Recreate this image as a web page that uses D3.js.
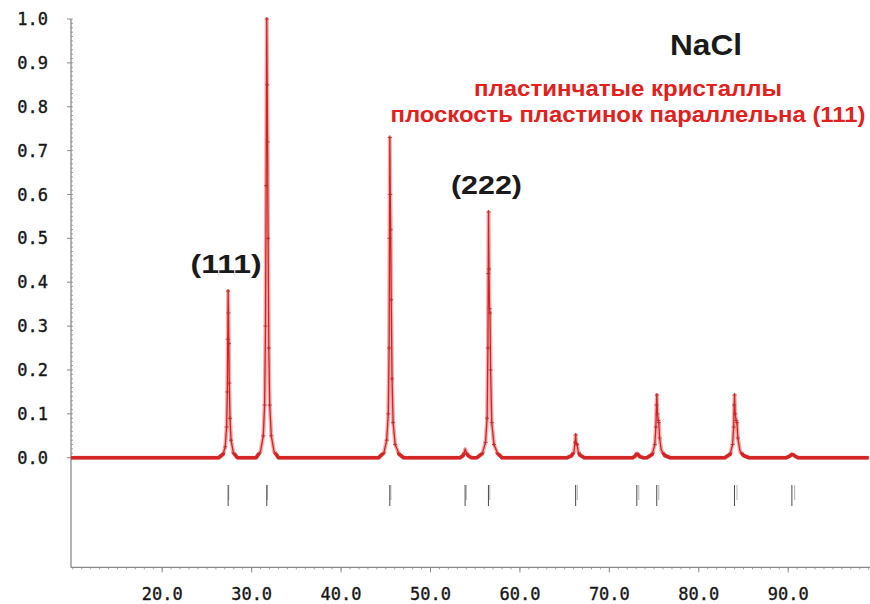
<!DOCTYPE html>
<html>
<head>
<meta charset="utf-8">
<script src="https://cdn.jsdelivr.net/npm/d3@7"></script>
<style>
  html, body { margin: 0; padding: 0; background: #fff; }
  svg { display: block; }
</style>
</head>
<body>
<svg id="chart" width="870" height="604"></svg>
<script>
// Powder diffraction pattern of NaCl (Cu Kα), platelet crystals with (111) texture.

// Measured profile: 2θ (degrees) and relative intensity
const twoTheta = [
  9.8, 20.0,
  26.3, 26.8, 27.05, 27.2, 27.28, 27.33, 27.37, 27.41, 27.45, 27.5, 27.58, 27.7, 27.95, 28.4,
  30.5, 31.0, 31.3, 31.45, 31.55, 31.62, 31.69, 31.74, 31.78, 31.84, 31.92, 32.02, 32.2, 32.5, 33.0,
  40.0,
  44.2, 44.8, 45.1, 45.28, 45.37, 45.42, 45.45, 45.5, 45.55, 45.61, 45.7, 45.82, 46.05, 46.5, 47.0,
  53.3, 53.65, 53.8, 53.87, 53.95, 54.05, 54.25, 54.6,
  55.2, 55.8, 56.15, 56.33, 56.42, 56.46, 56.49, 56.54, 56.6, 56.65, 56.72, 56.85, 57.1, 57.5, 58.0,
  62.0,
  65.3, 65.8, 66.05, 66.17, 66.23, 66.3, 66.4, 66.5, 66.7, 67.2,
  72.6, 72.9, 73.03, 73.1, 73.25, 73.45, 73.8,
  74.2, 74.8, 75.08, 75.2, 75.27, 75.31, 75.38, 75.47, 75.53, 75.62, 75.8, 76.2, 76.8,
  80.0,
  82.9, 83.5, 83.78, 83.9, 83.96, 84.0, 84.07, 84.18, 84.27, 84.37, 84.6, 85.0, 85.6,
  89.8, 90.2, 90.4, 90.55, 90.75, 91.1,
  99.0
];
const intensity = [
  0, 0,
  0, 0.008, 0.025, 0.07, 0.15, 0.27, 0.38, 0.33, 0.26, 0.17, 0.09, 0.04, 0.012, 0,
  0, 0.015, 0.05, 0.12, 0.30, 0.62, 1.00, 0.85, 0.72, 0.50, 0.25, 0.12, 0.05, 0.015, 0,
  0,
  0, 0.012, 0.04, 0.10, 0.25, 0.50, 0.73, 0.60, 0.52, 0.36, 0.18, 0.08, 0.03, 0.008, 0,
  0, 0.005, 0.014, 0.02, 0.016, 0.01, 0.004, 0,
  0, 0.01, 0.035, 0.09, 0.25, 0.42, 0.56, 0.43, 0.34, 0.33, 0.20, 0.08, 0.03, 0.01, 0,
  0,
  0, 0.005, 0.015, 0.035, 0.052, 0.032, 0.03, 0.016, 0.006, 0,
  0, 0.004, 0.009, 0.01, 0.006, 0.002, 0,
  0, 0.008, 0.03, 0.07, 0.12, 0.143, 0.10, 0.085, 0.08, 0.045, 0.018, 0.005, 0,
  0,
  0, 0.008, 0.03, 0.07, 0.12, 0.143, 0.10, 0.085, 0.08, 0.045, 0.016, 0.005, 0,
  0, 0.004, 0.008, 0.007, 0.004, 0,
  0
];

// Reflection positions (Kα1 and Kα2) shown as bars under the pattern
const hkl     = ["111", "200", "220", "311", "222", "400", "331", "420", "422", "511"];
const kAlpha1 = [27.37, 31.69, 45.45, 53.87, 56.48, 66.23, 73.07, 75.30, 83.99, 90.41];
const kAlpha2 = [27.44, 31.77, 45.57, 54.01, 56.63, 66.42, 73.29, 75.53, 84.27, 90.72];

// Axis ticks
const xTicks = [20, 30, 40, 50, 60, 70, 80, 90];
const yTicks = [0, 0.1, 0.2, 0.3, 0.4, 0.5, 0.6, 0.7, 0.8, 0.9, 1.0];

// Annotations
const titleText = "NaCl";
const subtitleLines = ["пластинчатые кристаллы", "плоскость пластинок параллельна (111)"];
const peakLabels = [
  { text: "(111)", at: 27.37, level: 0.38 },
  { text: "(222)", at: 56.48, level: 0.56 }
];

const svg = d3.select("#chart");

const x = d3.scaleLinear().domain([9.8, 99]).range([71, 868.7]);
const y = d3.scaleLinear().domain([-0.25, 1.0]).range([567.4, 19]);

const axisColor = "#8a8a8a";
const monoFont = "'DejaVu Sans Mono', 'Liberation Mono', monospace";
const sansFont = "'Liberation Sans', Arial, sans-serif";

// ---- y axis ----
const yAxisG = svg.append("g").attr("class", "y-axis");
yAxisG.append("line")
  .attr("x1", x(9.8)).attr("x2", x(9.8))
  .attr("y1", y(1.0)).attr("y2", y(-0.25))
  .attr("stroke", axisColor).attr("stroke-width", 1.3);
// minor ticks every 0.01, on the inner side
const yMinor = d3.range(0, 101).map(i => i / 100);
yAxisG.selectAll("line.minor").data(yMinor).join("line")
  .attr("class", "minor")
  .attr("x1", x(9.8)).attr("x2", x(9.8) + 2)
  .attr("y1", d => y(d)).attr("y2", d => y(d))
  .attr("stroke", axisColor).attr("stroke-width", 0.8);
yAxisG.selectAll("line.major").data(yTicks).join("line")
  .attr("class", "major")
  .attr("x1", x(9.8) - 4).attr("x2", x(9.8))
  .attr("y1", d => y(d)).attr("y2", d => y(d))
  .attr("stroke", axisColor).attr("stroke-width", 1);
yAxisG.selectAll("text").data(yTicks).join("text")
  .attr("x", 48)
  .attr("y", d => y(d))
  .attr("dy", "0.36em")
  .attr("text-anchor", "end")
  .attr("font-family", monoFont)
  .attr("font-size", 17)
  .attr("fill", "#161616")
  .attr("stroke", "#161616")
  .attr("stroke-width", 0.35)
  .text(d => d3.format(".1f")(d));

// ---- x axis ----
const xAxisG = svg.append("g").attr("class", "x-axis");
xAxisG.append("line")
  .attr("x1", x(9.8)).attr("x2", 870)
  .attr("y1", y(-0.25)).attr("y2", y(-0.25))
  .attr("stroke", axisColor).attr("stroke-width", 1.3);
const xMinor = d3.range(10, 100);
xAxisG.selectAll("line.minor").data(xMinor).join("line")
  .attr("class", "minor")
  .attr("x1", d => x(d)).attr("x2", d => x(d))
  .attr("y1", y(-0.25)).attr("y2", y(-0.25) + 2)
  .attr("stroke", axisColor).attr("stroke-width", 0.8);
xAxisG.selectAll("line.major").data(xTicks).join("line")
  .attr("class", "major")
  .attr("x1", d => x(d)).attr("x2", d => x(d))
  .attr("y1", y(-0.25)).attr("y2", y(-0.25) + 5)
  .attr("stroke", axisColor).attr("stroke-width", 1);
xAxisG.selectAll("text").data(xTicks).join("text")
  .attr("x", d => x(d))
  .attr("y", 600)
  .attr("text-anchor", "middle")
  .attr("font-family", monoFont)
  .attr("font-size", 17)
  .attr("fill", "#161616")
  .attr("stroke", "#161616")
  .attr("stroke-width", 0.35)
  .text(d => d3.format(".1f")(d));

// ---- reflection bars ----
const barsG = svg.append("g").attr("class", "reflections");
barsG.selectAll("line.ka2").data(kAlpha2).join("line")
  .attr("class", "ka2")
  .attr("x1", d => x(d)).attr("x2", d => x(d))
  .attr("y1", 485).attr("y2", 500)
  .attr("stroke", "#b4b4b4").attr("stroke-width", 1);
barsG.selectAll("line.ka1").data(kAlpha1).join("line")
  .attr("class", "ka1")
  .attr("x1", d => x(d)).attr("x2", d => x(d))
  .attr("y1", 485).attr("y2", 506)
  .attr("stroke", "#4a4a4a").attr("stroke-width", 1);

// ---- diffraction profile ----
const profile = twoTheta.map((t, i) => [t, intensity[i]]);
const line = d3.line().x(d => x(d[0])).y(d => y(d[1]));

// dense point markers merge into a solid band close to the background level
svg.append("defs").append("clipPath").attr("id", "near-base")
  .append("rect")
  .attr("x", 0).attr("width", 870)
  .attr("y", y(0.012)).attr("height", y(-0.02) - y(0.012));

const curveG = svg.append("g").attr("class", "profile");
curveG.append("path")
  .datum(profile)
  .attr("d", line)
  .attr("fill", "none")
  .attr("stroke", "#e05050")
  .attr("stroke-opacity", 0.45)
  .attr("stroke-width", 4)
  .attr("stroke-linejoin", "round");
curveG.append("path")
  .datum(profile)
  .attr("d", line)
  .attr("clip-path", "url(#near-base)")
  .attr("fill", "none")
  .attr("stroke", "#d42a2a")
  .attr("stroke-width", 3.6)
  .attr("stroke-linejoin", "round");
curveG.append("path")
  .datum(profile)
  .attr("d", line)
  .attr("fill", "none")
  .attr("stroke", "#d42222")
  .attr("stroke-width", 1.3)
  .attr("stroke-linejoin", "round");
// point markers
curveG.selectAll("path.pt").data(profile.filter(d => d[1] > 0.02)).join("path")
  .attr("class", "pt")
  .attr("d", d => {
    const px = x(d[0]), py = y(d[1]);
    return `M${px - 2},${py}H${px + 2}M${px},${py - 2}V${py + 2}`;
  })
  .attr("stroke", "#c82828")
  .attr("stroke-width", 0.9);

// ---- annotations ----
svg.append("text")
  .attr("x", 706).attr("y", 55)
  .attr("text-anchor", "middle")
  .attr("font-family", sansFont)
  .attr("font-weight", "bold")
  .attr("font-size", 30)
  .attr("textLength", 72)
  .attr("lengthAdjust", "spacingAndGlyphs")
  .attr("fill", "#1a1a1a")
  .text(titleText);

const subtitleWidths = [308, 475];
svg.selectAll("text.sub").data(subtitleLines).join("text")
  .attr("class", "sub")
  .attr("x", 628)
  .attr("y", (d, i) => 96 + i * 26)
  .attr("text-anchor", "middle")
  .attr("font-family", sansFont)
  .attr("font-weight", "bold")
  .attr("font-size", 22)
  .attr("textLength", (d, i) => subtitleWidths[i])
  .attr("lengthAdjust", "spacingAndGlyphs")
  .attr("fill", "#e0211d")
  .text(d => d);

svg.selectAll("text.peak").data(peakLabels).join("text")
  .attr("class", "peak")
  .attr("x", d => x(d.at) - 2)
  .attr("y", d => y(d.level) - 18)
  .attr("text-anchor", "middle")
  .attr("font-family", sansFont)
  .attr("font-weight", "bold")
  .attr("font-size", 26)
  .attr("textLength", 71)
  .attr("lengthAdjust", "spacingAndGlyphs")
  .attr("fill", "#1a1a1a")
  .text(d => d.text);
</script>
</body>
</html>
